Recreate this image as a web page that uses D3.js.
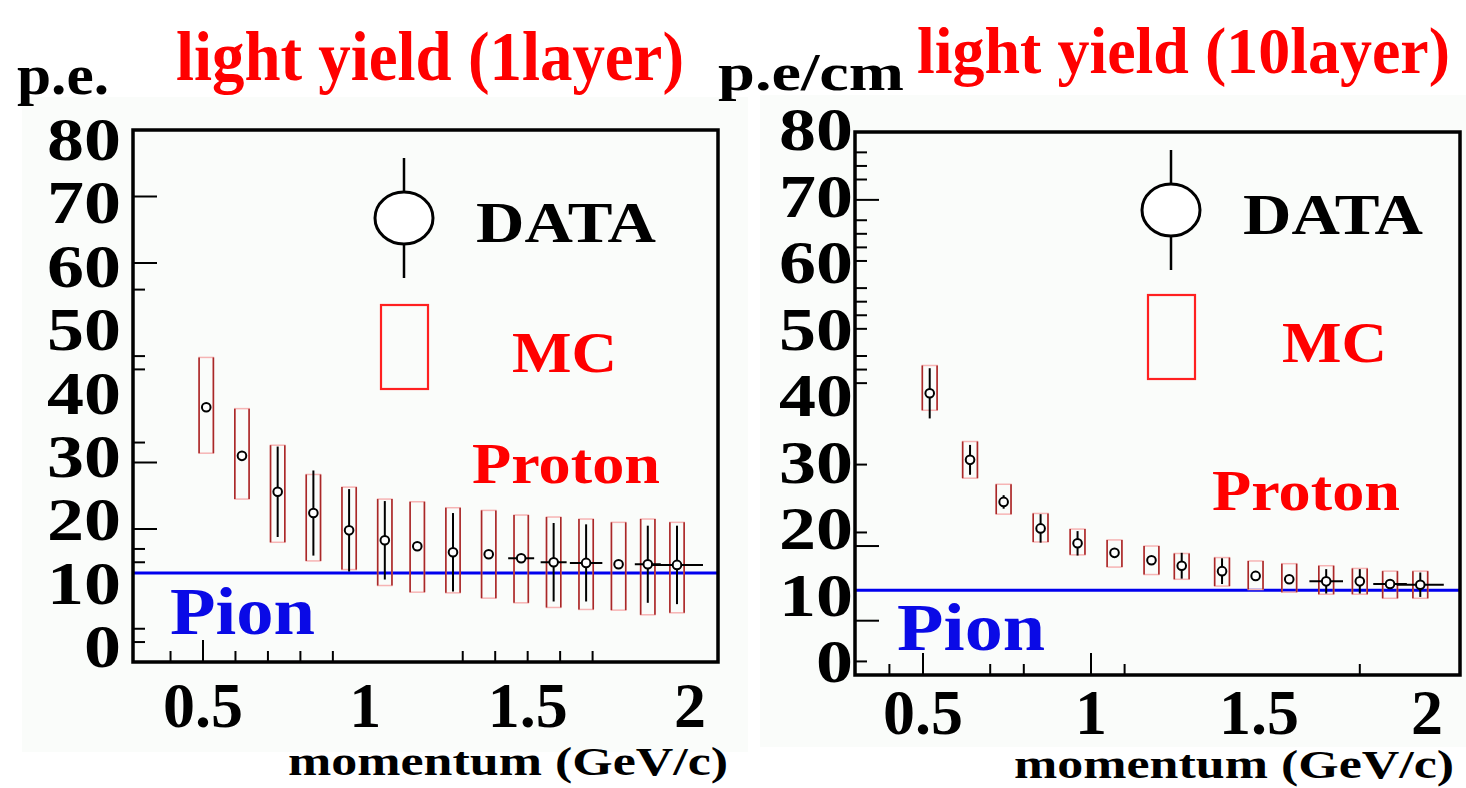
<!DOCTYPE html>
<meta charset="utf-8">
<style>
  body { margin: 0; background: #fff; }
  svg text { font-family: "Liberation Serif", "Times New Roman", Times, serif; font-weight: bold; }
  .frame { fill: none; stroke: #000; stroke-width: 3.5px; }
  .tick { stroke: #000; stroke-width: 2px; }
  .pion { stroke: #0000ee; stroke-width: 3px; }
  .mcbox { fill: none; stroke: #f6b4b4; stroke-width: 1.5px; }
  .mcside { stroke: #a82828; stroke-width: 1.6px; }
  .err { stroke: #000; stroke-width: 2px; }
  .dot { fill: #fff; stroke: #000; stroke-width: 2px; }
</style>
<svg width="1466" height="788"></svg>
<script src="https://cdn.jsdelivr.net/npm/d3@7"></script>
<script>
  // left panel: light yield (1 layer), p.e.
  const momL     = [0.51, 0.62, 0.73, 0.84, 0.95, 1.06, 1.16, 1.27, 1.38, 1.48, 1.58, 1.68, 1.78, 1.87, 1.96];
  const dataL    = [38.3, 31.0, 25.6, 22.4, 19.8, 18.3, 17.4, 16.5, 16.2, 15.6, 15.0, 14.9, 14.7, 14.7, 14.6];
  const dataErrL = [0, 0, 6.8, 6.4, 6.2, 5.9, 0, 5.9, 0, 0, 5.9, 5.8, 0, 5.8, 5.9];
  const xErrL    = [0, 0, 0, 0, 0, 0, 0, 0, 0, 0.04, 0.04, 0.05, 0, 0.04, 0.08];
  const mcL      = [38.6, 31.3, 25.3, 21.7, 20.1, 18.0, 17.3, 16.8, 16.2, 15.5, 15.0, 14.7, 14.4, 14.3, 14.2];
  const mcErrL   = [7.2, 6.8, 7.3, 6.5, 6.2, 6.5, 6.8, 6.4, 6.6, 6.6, 6.8, 6.8, 6.6, 7.2, 6.8];
  const pionL = 13.4;

  // right panel: light yield (10 layer), p.e/cm
  const momR     = [0.52, 0.64, 0.74, 0.85, 0.96, 1.07, 1.18, 1.27, 1.39, 1.49, 1.59, 1.70, 1.80, 1.89, 1.98];
  const dataR    = [41.5, 31.7, 25.5, 21.6, 19.4, 18.0, 16.9, 16.1, 15.3, 14.6, 14.1, 13.8, 13.8, 13.4, 13.3];
  const dataErrR = [3.7, 2.2, 1.0, 2.1, 1.8, 0, 0, 1.9, 1.9, 0, 0, 1.8, 1.8, 0, 1.8];
  const xErrR    = [0, 0, 0, 0, 0, 0, 0, 0, 0, 0, 0, 0.05, 0, 0.05, 0.07];
  const mcR      = [42.3, 31.7, 25.9, 21.7, 19.6, 17.9, 16.9, 16.0, 15.2, 14.7, 14.3, 14.0, 13.8, 13.3, 13.3];
  const mcErrR   = [3.3, 2.7, 2.2, 2.1, 1.9, 2.0, 2.1, 1.9, 2.1, 2.1, 2.1, 2.1, 1.9, 2.0, 2.0];
  const pionR = 12.5;

  const yTickLabels = [0, 10, 20, 30, 40, 50, 60, 70, 80];
  const xTickLabels = [0.5, 1, 1.5, 2];

  const yLongL  = [70, 60, 30, 20];
  const yShortL = [56, 46, 44, 33, 17, 15, 5, 3];
  const xLongL  = [0.5];
  const xShortL = [0.4, 0.6, 0.7, 0.8, 0.9, 1.3, 1.4, 1.5, 1.6, 1.7];

  const yLongR  = [70, 19, 8];
  const yShortR = [77, 75, 73, 67, 65, 63, 61, 57, 55, 53, 51, 47, 45, 43, 31, 21, 2];
  const xLongR  = [0.5, 1.0];
  const xShortR = [0.4, 0.7, 0.8, 1.1, 1.8];

  const svg = d3.select("svg");

  function drawPanel(p) {
    const g = svg.append("g");
    const x = d3.scaleLinear().domain([0.5, 2]).range(p.xr);
    const y = d3.scaleLinear().domain([0, 80]).range([p.bottom, p.top]);
    const yLab = d3.scaleLinear().domain([0, 80]).range(p.labr);

    g.append("rect")
      .attr("x", p.bg[0]).attr("y", p.bg[1])
      .attr("width", p.bg[2]).attr("height", p.bg[3])
      .attr("fill", "#fafcfa");

    // ticks (inside the frame)
    g.selectAll(".yl").data(p.yLong).enter().append("line")
      .attr("class", "tick")
      .attr("x1", p.left).attr("x2", p.left + 24)
      .attr("y1", d => y(d)).attr("y2", d => y(d));
    g.selectAll(".ys").data(p.yShort).enter().append("line")
      .attr("class", "tick")
      .attr("x1", p.left).attr("x2", p.left + 12)
      .attr("y1", d => y(d)).attr("y2", d => y(d));
    g.selectAll(".xl").data(p.xLong).enter().append("line")
      .attr("class", "tick")
      .attr("x1", d => x(d)).attr("x2", d => x(d))
      .attr("y1", p.bottom).attr("y2", p.bottom - 22);
    g.selectAll(".xs").data(p.xShort).enter().append("line")
      .attr("class", "tick")
      .attr("x1", d => x(d)).attr("x2", d => x(d))
      .attr("y1", p.bottom).attr("y2", p.bottom - 11);

    // pion line
    g.append("line").attr("class", "pion")
      .attr("x1", p.left).attr("x2", p.right)
      .attr("y1", y(p.pion)).attr("y2", y(p.pion));

    const pts = p.mom.map((m, i) => ({
      m, d: p.data[i], de: p.dataErr[i], xe: p.xErr[i], mc: p.mc[i], me: p.mcErr[i]
    }));

    // MC boxes
    const hw = 0.022;
    g.selectAll(".mcbox").data(pts).enter().append("rect")
      .attr("class", "mcbox")
      .attr("x", d => x(d.m - hw))
      .attr("width", d => x(d.m + hw) - x(d.m - hw))
      .attr("y", d => y(d.mc + d.me))
      .attr("height", d => y(d.mc - d.me) - y(d.mc + d.me));
    [-hw, hw].forEach(o => {
      g.selectAll(null).data(pts).enter().append("line")
        .attr("class", "mcside")
        .attr("x1", d => x(d.m + o)).attr("x2", d => x(d.m + o))
        .attr("y1", d => y(d.mc + d.me)).attr("y2", d => y(d.mc - d.me));
    });

    // data error bars
    g.selectAll(".ey").data(pts.filter(d => d.de > 0)).enter().append("line")
      .attr("class", "err")
      .attr("x1", d => x(d.m)).attr("x2", d => x(d.m))
      .attr("y1", d => y(d.d + d.de)).attr("y2", d => y(d.d - d.de));
    g.selectAll(".ex").data(pts.filter(d => d.xe > 0)).enter().append("line")
      .attr("class", "err")
      .attr("x1", d => x(d.m - d.xe)).attr("x2", d => x(d.m + d.xe))
      .attr("y1", d => y(d.d)).attr("y2", d => y(d.d));
    g.selectAll(".dot").data(pts).enter().append("circle")
      .attr("class", "dot")
      .attr("cx", d => x(d.m)).attr("cy", d => y(d.d)).attr("r", 4.3);

    // frame
    g.append("rect").attr("class", "frame")
      .attr("x", p.left).attr("y", p.top)
      .attr("width", p.right - p.left).attr("height", p.bottom - p.top);

    // tick labels
    g.selectAll(".ylab").data(yTickLabels).enter().append("text")
      .attr("x", p.labx).attr("y", d => yLab(d) + 22)
      .attr("text-anchor", "end")
      .attr("font-size", 62)
      .attr("textLength", d => d < 10 ? 37 : 74)
      .attr("lengthAdjust", "spacingAndGlyphs")
      .text(d => d);
    g.selectAll(".xlab").data(xTickLabels).enter().append("text")
      .attr("x", d => x(d)).attr("y", p.xlaby)
      .attr("text-anchor", "middle")
      .attr("font-size", 64)
      .text(d => d);

    g.append("text")
      .attr("x", p.xtitle[0]).attr("y", p.xtitle[1])
      .attr("font-size", 41)
      .attr("textLength", 440).attr("lengthAdjust", "spacingAndGlyphs")
      .text("momentum (GeV/c)");

    g.append("text")
      .attr("x", p.ytitle[0]).attr("y", p.ytitle[1])
      .attr("font-size", p.ytitle[3])
      .attr("textLength", p.ytitle[2]).attr("lengthAdjust", "spacingAndGlyphs")
      .text(p.yname);

    g.append("text")
      .attr("x", p.title[0]).attr("y", p.title[1])
      .attr("font-size", p.title[3]).attr("fill", "#ff0000")
      .attr("textLength", p.title[2]).attr("lengthAdjust", "spacingAndGlyphs")
      .text(p.titleText);

    // legend
    const L = p.legend;
    g.append("line").attr("stroke", "#000").attr("stroke-width", 2.5)
      .attr("x1", L.cx).attr("x2", L.cx).attr("y1", L.cy - 60).attr("y2", L.cy + 60);
    g.append("ellipse").attr("fill", "#fff").attr("stroke", "#000").attr("stroke-width", 3)
      .attr("cx", L.cx).attr("cy", L.cy).attr("rx", 29).attr("ry", 26);
    g.append("text").attr("x", L.dx).attr("y", L.cy + 24)
      .attr("font-size", 58).attr("textLength", 180).attr("lengthAdjust", "spacingAndGlyphs")
      .text("DATA");
    g.append("rect").attr("fill", "none").attr("stroke", "#ff2020").attr("stroke-width", 2.2)
      .attr("x", L.cx - 23).attr("y", L.my).attr("width", 47).attr("height", 84);
    g.append("text").attr("x", L.mx).attr("y", L.my + 67)
      .attr("font-size", 58).attr("fill", "#ff0000")
      .attr("textLength", 105).attr("lengthAdjust", "spacingAndGlyphs")
      .text("MC");

    g.append("text").attr("x", p.proton[0]).attr("y", p.proton[1])
      .attr("font-size", 58).attr("fill", "#ff0000")
      .attr("textLength", 188).attr("lengthAdjust", "spacingAndGlyphs")
      .text("Proton");
    g.append("text").attr("x", p.pionLab[0]).attr("y", p.pionLab[1])
      .attr("font-size", 68).attr("fill", "#0a0ae6")
      .attr("textLength", p.pionLab[2]).attr("lengthAdjust", "spacingAndGlyphs")
      .text("Pion");
  }

  drawPanel({
    left: 133, right: 718, top: 130, bottom: 662,
    xr: [203, 690], labr: [645, 138], labx: 121, xlaby: 727,
    bg: [22, 97, 726, 655],
    mom: momL, data: dataL, dataErr: dataErrL, xErr: xErrL, mc: mcL, mcErr: mcErrL, pion: pionL,
    yLong: yLongL, yShort: yShortL, xLong: xLongL, xShort: xShortL,
    xtitle: [288, 775], ytitle: [17, 94, 92, 56], yname: "p.e.",
    title: [176, 80, 508, 69], titleText: "light yield (1layer)",
    legend: { cx: 404, cy: 218, dx: 476, my: 305, mx: 512 },
    proton: [472, 483], pionLab: [170, 634, 145]
  });

  drawPanel({
    left: 855, right: 1460, top: 132, bottom: 675,
    xr: [923, 1427], labr: [660, 128], labx: 853, xlaby: 734,
    bg: [760, 95, 706, 652],
    mom: momR, data: dataR, dataErr: dataErrR, xErr: xErrR, mc: mcR, mcErr: mcErrR, pion: pionR,
    yLong: yLongR, yShort: yShortR, xLong: xLongR, xShort: xShortR,
    xtitle: [1014, 778], ytitle: [718, 90, 186, 52], yname: "p.e/cm",
    title: [917, 73, 533, 66], titleText: "light yield (10layer)",
    legend: { cx: 1171, cy: 210, dx: 1243, my: 295, mx: 1282 },
    proton: [1212, 510], pionLab: [897, 650, 148]
  });
</script>
